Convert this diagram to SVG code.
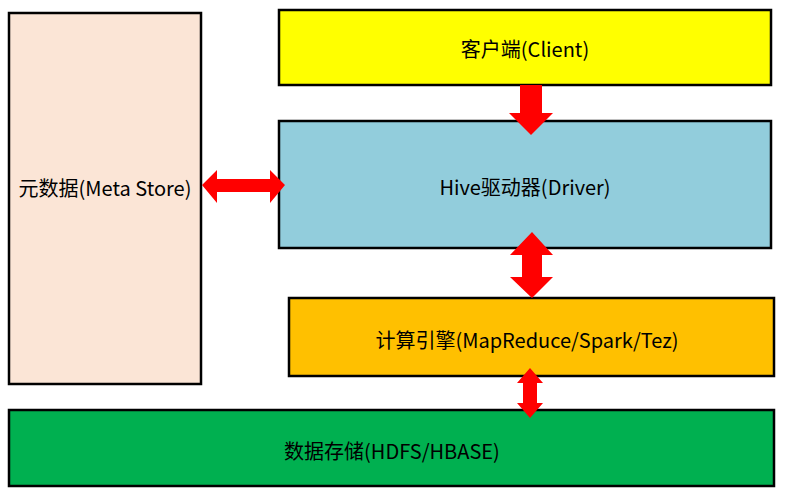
<svg xmlns="http://www.w3.org/2000/svg" width="786" height="494" viewBox="0 0 786 494">
<style>
.box{stroke:#000;stroke-width:2.5}
.t{font-family:"Noto Sans CJK SC","Liberation Sans",sans-serif;font-size:20px;fill:#000;text-anchor:middle;dominant-baseline:central}
.arr{fill:#FF0000}
</style>
<rect width="786" height="494" fill="#fff"/>
<g id="meta"><rect class="box" x="9" y="13" width="192" height="371" fill="#FBE5D6"/><text class="t" x="105" y="187">元数据(Meta Store)</text></g>
<g id="client"><rect class="box" x="279" y="10" width="492" height="75" fill="#FFFF00"/><text class="t" x="525" y="48">客户端(Client)</text></g>
<g id="driver"><rect class="box" x="279" y="121" width="492" height="127" fill="#92CDDC"/><text class="t" x="525" y="186">Hive驱动器(Driver)</text></g>
<g id="engine"><rect class="box" x="289" y="298" width="485" height="78" fill="#FFC000"/><text class="t" x="527" y="339">计算引擎(MapReduce/Spark/Tez)</text></g>
<g id="storage"><rect class="box" x="9" y="410" width="765" height="76" fill="#00B050"/><text class="t" x="392" y="450">数据存储(HDFS/HBASE)</text></g>
<g id="connectors">
<polygon class="arr" points="520,85 542,85 542,113 553,113 531,135 509,113 520,113"/>
<polygon class="arr" points="202,185 217,170 217,179 270,179 270,170 285,185 270,203 270,192 217,192 217,203"/>
<polygon class="arr" points="532,232 553,255 542,255 542,277 553,277 532,298 510,277 522,277 522,255 510,255"/>
<polygon class="arr" points="530,368 543,383 537,383 537,403 543,403 530,418 517,403 523,403 523,383 517,383"/>
</g>
</svg>
